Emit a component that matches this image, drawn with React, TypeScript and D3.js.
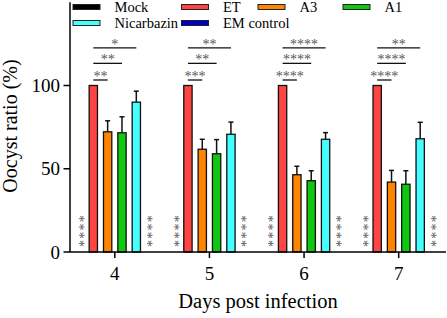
import React from "react";
import * as d3 from "d3";

const days = ["4", "5", "6", "7"];
const series = ["Mock", "ET", "A3", "A1", "Nicarbazin", "EM control"];
const colors = ["#000000", "#FF4444", "#FF8400", "#10C810", "#44FFFF", "#0000C8"];

const mockValues = [0, 0, 0, 0];
const etValues = [100, 100, 100, 100];
const a3Values = [72.2, 61.7, 46.4, 42.0];
const a1Values = [71.6, 59.0, 42.8, 40.7];
const nicValues = [90.0, 70.7, 67.7, 68.0];
const emValues = [0, 0, 0, 0];

const etErr = [0, 0, 0, 0];
const a3Err = [6.6, 6.0, 5.1, 7.0];
const a1Err = [9.6, 8.5, 6.0, 8.1];
const nicErr = [6.6, 7.3, 4.0, 9.9];

const yTicks = [0, 50, 100];

// significance: comparisons of ET vs target series
const sigTargets = ["A3", "A1", "Nicarbazin"];
const sigHeights = [103.3, 113.3, 122.6];
const sigLabels = [
  ["**", "**", "*"],
  ["***", "**", "**"],
  ["****", "****", "****"],
  ["****", "****", "**"],
];
const zeroSigLabel = "****";

const valuesBySeries = [mockValues, etValues, a3Values, a1Values, nicValues, emValues];
const errBySeries = [null, etErr, a3Err, a1Err, nicErr, null];

const W = 447;
const H = 318;
const serif = '"Liberation Serif", Tinos, "Times New Roman", "DejaVu Serif", serif';
const tf = { fontFamily: serif };

export default function App() {
  const x = d3.scaleBand<string>().domain(days).range([67.5, 446]);
  const inner = d3
    .scaleBand<string>()
    .domain(series)
    .range([-43, 43])
    .paddingInner(0.42)
    .paddingOuter(0.21);
  const y = d3.scaleLinear().domain([0, 150]).range([252, 2.25]);
  const bw = inner.bandwidth();
  const cx = (d: string, s: string) => (x(d) as number) + x.bandwidth() / 2 + (inner(s) as number) + bw / 2;

  const legendCols = [73, 181.5, 258, 343];
  const legendRows = [7, 23];

  return (
    <svg width={W} height={H} style={{ position: "absolute", left: 0, top: 0, background: "#fff" }}>
      {/* legend */}
      {series.map((s, i) => {
        const col = i < 4 ? i : i - 4;
        const row = i < 4 ? 0 : 1;
        const lx = legendCols[col];
        const ly = legendRows[row];
        return (
          <g key={s}>
            <rect x={lx} y={ly - 2.5} width={27} height={5} fill={colors[i]} stroke="#222" strokeWidth={1} />
            <text x={lx + 41.5} y={ly + 5} style={tf} fontSize={14.5} fill="#000">
              {s}
            </text>
          </g>
        );
      })}

      {/* bars */}
      {days.map((d, di) => (
        <g key={d}>
          {series.map((s, si) => {
            const v = valuesBySeries[si][di];
            if (v <= 0) return null;
            const bx = cx(d, s) - bw / 2;
            return (
              <rect
                key={s}
                x={bx}
                y={y(v)}
                width={bw}
                height={y(0) - y(v)}
                fill={colors[si]}
                stroke="#111"
                strokeWidth={1.3}
              />
            );
          })}
          {series.map((s, si) => {
            const errs = errBySeries[si];
            if (!errs || errs[di] <= 0) return null;
            const v = valuesBySeries[si][di];
            const c = cx(d, s);
            return (
              <g key={"e" + s} stroke="#111" strokeWidth={1.5}>
                <line x1={c} x2={c} y1={y(v)} y2={y(v + errs[di])} />
                <line x1={c - 2.5} x2={c + 2.5} y1={y(v + errs[di])} y2={y(v + errs[di])} />
              </g>
            );
          })}
          {/* significance brackets */}
          {sigTargets.map((t, ti) => {
            const x1 = cx(d, "ET");
            const x2 = cx(d, t);
            const ly = y(sigHeights[ti]);
            return (
              <g key={"s" + t}>
                <line x1={x1} x2={x2} y1={ly} y2={ly} stroke="#111" strokeWidth={1.3} />
                <text
                  x={(x1 + x2) / 2}
                  y={ly + 1}
                  textAnchor="middle"
                  style={tf}
                  fontSize={14}
                  fill="#555"
                >
                  {sigLabels[di][ti]}
                </text>
              </g>
            );
          })}
          {/* vertical stars for zero groups */}
          {["Mock", "EM control"].map((s, k) => {
            const c = cx(d, s) + (k === 0 ? 3 : -1);
            const cy = y(0) - 21.5;
            return (
              <text
                key={"z" + s}
                transform={`translate(${c + 7},${cy}) rotate(-90)`}
                textAnchor="middle"
                style={{ ...tf, letterSpacing: "1.3px" }}
                fontSize={14}
                fill="#555"
              >
                {zeroSigLabel}
              </text>
            );
          })}
        </g>
      ))}

      {/* y axis */}
      <line x1={70} x2={70} y1={y(150)} y2={y(0)} stroke="#000" strokeWidth={1.5} />
      {yTicks.map((t) => (
        <g key={t}>
          <line x1={63.5} x2={70} y1={y(t)} y2={y(t)} stroke="#000" strokeWidth={1.5} />
          <text x={60} y={y(t) + 6.5} textAnchor="end" style={tf} fontSize={19} fill="#000">
            {t}
          </text>
        </g>
      ))}

      {/* x axis */}
      <line x1={70} x2={446} y1={y(0)} y2={y(0)} stroke="#000" strokeWidth={1.5} />
      {days.map((d) => {
        const c = (x(d) as number) + x.bandwidth() / 2;
        return (
          <g key={d}>
            <line x1={c} x2={c} y1={y(0)} y2={y(0) + 6} stroke="#000" strokeWidth={1.5} />
            <text x={c} y={280} textAnchor="middle" style={tf} fontSize={19} fill="#000">
              {d}
            </text>
          </g>
        );
      })}

      <text x={258} y={308} textAnchor="middle" style={tf} fontSize={20.5} fill="#000">
        Days post infection
      </text>
      <text
        transform={`translate(17,126) rotate(-90)`}
        textAnchor="middle"
        style={tf}
        fontSize={20}
        fill="#000"
      >
        Oocyst ratio (%)
      </text>
    </svg>
  );
}
